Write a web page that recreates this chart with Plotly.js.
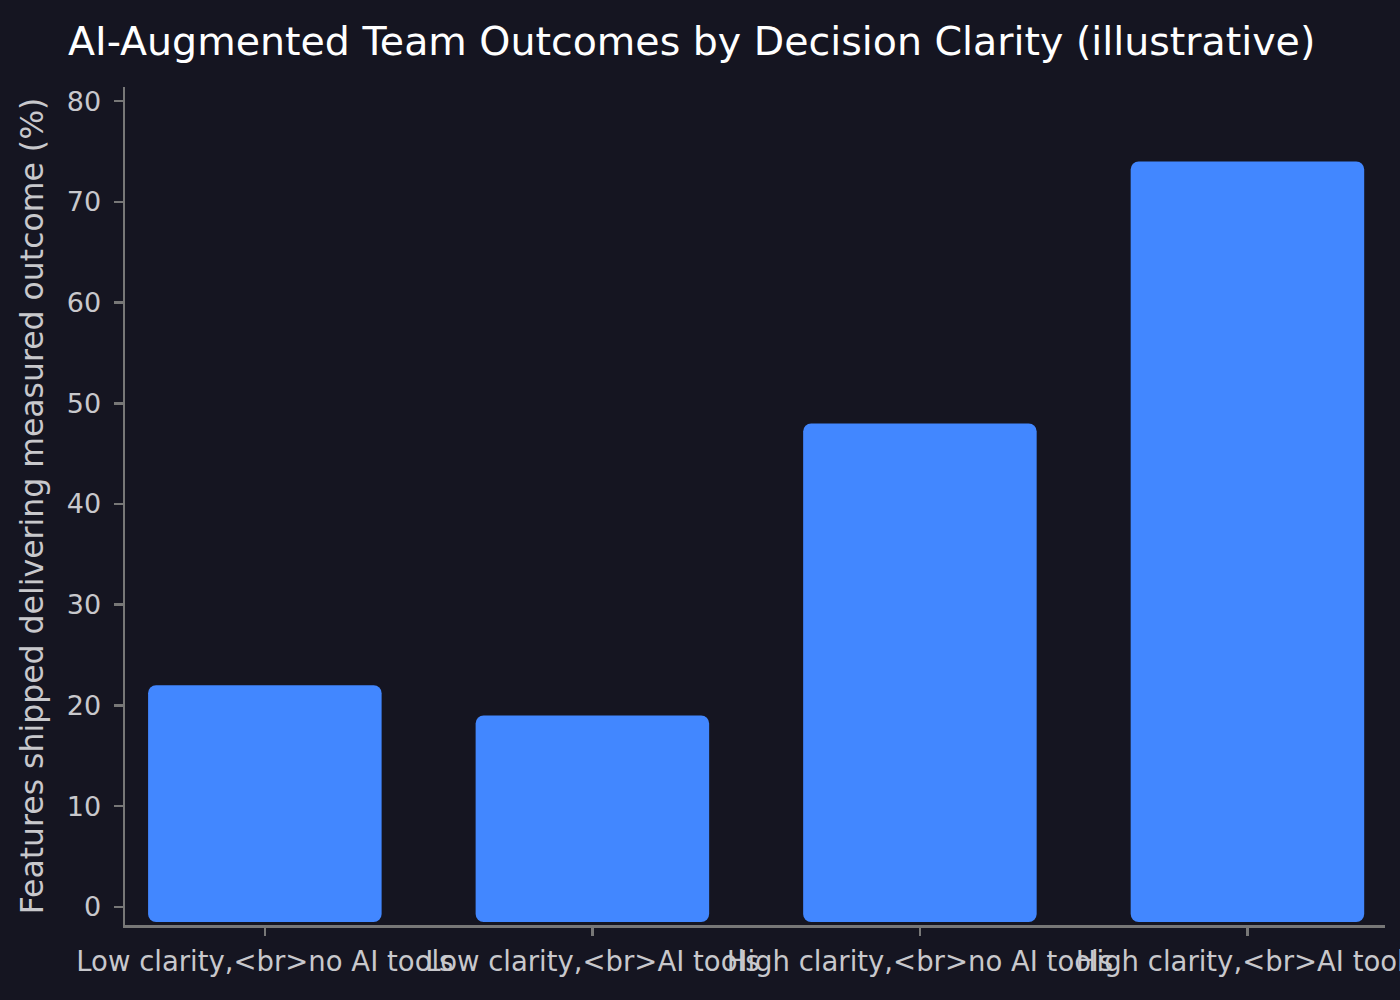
<!DOCTYPE html>
<html>
<head>
<meta charset="utf-8">
<script src="https://cdn.plot.ly/plotly-3.0.1.min.js"></script>
<style>
  html, body { margin: 0; padding: 0; background: #151521; }
  #chart { width: 1400px; height: 1000px; }
</style>
</head>
<body>
<div id="chart"></div>
<script>
// data
var categories = ['lc_noai', 'lc_ai', 'hc_noai', 'hc_ai'];
var tickLabels = [
    'Low clarity,&lt;br&gt;no AI tools',
    'Low clarity,&lt;br&gt;AI tools',
    'High clarity,&lt;br&gt;no AI tools',
    'High clarity,&lt;br&gt;AI tools'
];
var outcomePct = [22, 19, 48, 74];

var barBase = -1.5; // bars in the reference start slightly below zero

var trace = {
    type: 'bar',
    x: categories,
    y: outcomePct.map(v => v - barBase),
    base: barBase,
    width: 0.713,
    marker: {color: '#4287ff', cornerradius: 8, line: {width: 0}},
    hoverinfo: 'skip'
};

var layout = {
    width: 1400,
    height: 1000,
    paper_bgcolor: '#151521',
    plot_bgcolor: '#151521',
    font: {family: 'DejaVu Sans', color: '#c8c8cc', size: 27},
    showlegend: false,
    margin: {l: 125, r: 15, t: 87, b: 75, autoexpand: false},
    title: {
        text: 'AI-Augmented Team Outcomes by Decision Clarity (illustrative)',
        font: {family: 'DejaVu Sans', size: 39.5, color: '#ffffff'},
        x: 68 / 1400, xanchor: 'left',
        y: 1 - 41 / 1000, yanchor: 'middle'
    },
    xaxis: {
        type: 'category',
        range: [-0.427, 3.42],
        tickmode: 'array',
        tickvals: categories,
        ticktext: tickLabels,
        tickangle: 0,
        ticks: 'outside',
        ticklen: 8,
        tickwidth: 2.5,
        tickcolor: '#777777',
        ticklabelstandoff: 2,
        showline: true,
        linecolor: '#777777',
        linewidth: 2.5,
        showgrid: false,
        zeroline: false,
        tickfont: {size: 27.5, color: '#c8c8cc'}
    },
    yaxis: {
        range: [-1.8, 81.4],
        tickmode: 'array',
        tickvals: [0, 10, 20, 30, 40, 50, 60, 70, 80],
        ticks: 'outside',
        ticklen: 9,
        tickwidth: 2.5,
        tickcolor: '#777777',
        ticklabelstandoff: 7,
        showline: true,
        linecolor: '#777777',
        linewidth: 2.5,
        showgrid: false,
        zeroline: false,
        tickfont: {size: 27, color: '#c8c8cc'},
        title: {
            text: 'Features shipped delivering measured outcome (%)',
            font: {size: 31.5, color: '#c8c8cc'},
            standoff: 14
        }
    }
};

Plotly.newPlot('chart', [trace], layout, {displayModeBar: false, staticPlot: true});
</script>
</body>
</html>
